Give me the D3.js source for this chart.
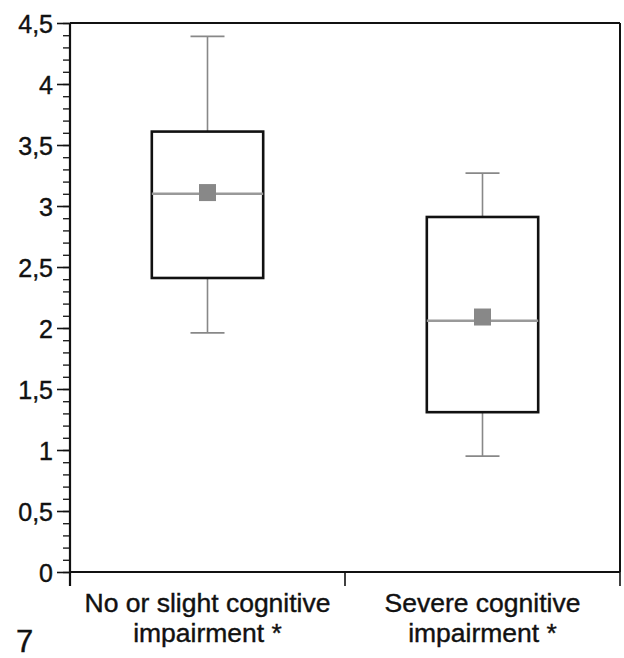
<!DOCTYPE html>
<html><head><meta charset="utf-8">
<script src="https://cdn.jsdelivr.net/npm/d3@7"></script>
<style>body{margin:0;background:#fff}svg{display:block}</style>
</head><body>
<script>
const categories = [["No or slight cognitive","impairment *"],["Severe cognitive","impairment *"]];
const whiskerLow  = [1.96, 0.95];
const q1          = [2.41, 1.31];
const median      = [3.10, 2.06];
const q3          = [3.61, 2.91];
const whiskerHigh = [4.39, 3.27];
const meanValue   = [3.11, 2.09];
const yTicks = [0,0.5,1,1.5,2,2.5,3,3.5,4,4.5];
const yTickLabels = ["0","0,5","1","1,5","2","2,5","3","3,5","4","4,5"];
const figureLabel = "7";

const W=624,H=658;
const svg=d3.select("body").append("svg").attr("width",W).attr("height",H);
const L=70,R=620,T=23,B=572;
const y=d3.scaleLinear().domain([0,4.5]).range([B,T]);
const x=d3.scaleBand().domain(d3.range(categories.length)).range([L,R]);
const font="'Liberation Sans', Arial, Helvetica, sans-serif";

// frame top/right
svg.append("line").attr("x1",L).attr("x2",R).attr("y1",T).attr("y2",T).attr("stroke","#111").attr("stroke-width",2.2);
svg.append("line").attr("x1",R).attr("x2",R).attr("y1",T).attr("y2",B).attr("stroke","#111").attr("stroke-width",2);

// y axis
const minor=d3.range(0,4.5001,0.1);
const yAxisMinor=svg.append("g").attr("transform",`translate(${L},0)`)
  .call(d3.axisLeft(y).tickValues(minor).tickSize(7).tickFormat(""));
yAxisMinor.select(".domain").remove();
yAxisMinor.selectAll("line").attr("stroke","#222").attr("stroke-width",1.4);
const yAxis=svg.append("g").attr("transform",`translate(${L},0)`)
  .call(d3.axisLeft(y).tickValues(yTicks).tickSize(13).tickPadding(4).tickFormat((d,i)=>yTickLabels[i]).tickSizeOuter(0));
yAxis.select(".domain").remove();
yAxis.attr("font-size",null).attr("font-family",null);
yAxis.selectAll("line").attr("stroke","#111").attr("stroke-width",1.6);
yAxis.selectAll("text").style("font-family",font).style("font-size","25px").attr("fill","#111")
  .attr("stroke","#111").attr("stroke-width",0.4).attr("dy","0.36em");
svg.append("line").attr("x1",L).attr("x2",L).attr("y1",T).attr("y2",B+14).attr("stroke","#111").attr("stroke-width",2.2);

// x axis
svg.append("line").attr("x1",L).attr("x2",R).attr("y1",B).attr("y2",B).attr("stroke","#111").attr("stroke-width",2.2);
const bounds=[L, ...d3.range(1,categories.length).map(i=>x(i)), R];
svg.selectAll(".xt").data(bounds).join("line").attr("x1",d=>d).attr("x2",d=>d).attr("y1",B).attr("y2",B+14)
  .attr("stroke","#111").attr("stroke-width",1.6);
categories.forEach((lines,i)=>{
  const t=svg.append("text").attr("x",x(i)+x.bandwidth()/2).attr("y",612).attr("text-anchor","middle")
    .style("font-family",font).style("font-size","26.5px").attr("fill","#111").attr("stroke","#111").attr("stroke-width",0.4);
  lines.forEach((ln,j)=>t.append("tspan").attr("x",x(i)+x.bandwidth()/2).attr("dy",j?30:0).text(ln));
});

// boxes
const bw=x.bandwidth()*0.405, cap=34, ms=17;
categories.forEach((c,i)=>{
  const cx=x(i)+x.bandwidth()/2;
  const g=svg.append("g");
  g.append("line").attr("x1",cx).attr("x2",cx).attr("y1",y(whiskerHigh[i])).attr("y2",y(q3[i])).attr("stroke","#888").attr("stroke-width",1.6);
  g.append("line").attr("x1",cx).attr("x2",cx).attr("y1",y(q1[i])).attr("y2",y(whiskerLow[i])).attr("stroke","#888").attr("stroke-width",1.6);
  [whiskerHigh[i],whiskerLow[i]].forEach(v=>g.append("line").attr("x1",cx-cap/2).attr("x2",cx+cap/2).attr("y1",y(v)).attr("y2",y(v)).attr("stroke","#888").attr("stroke-width",1.8));
  g.append("rect").attr("x",cx-bw/2).attr("y",y(q3[i])).attr("width",bw).attr("height",y(q1[i])-y(q3[i]))
    .attr("fill","none").attr("stroke","#111").attr("stroke-width",2.6);
  g.append("line").attr("x1",cx-bw/2).attr("x2",cx+bw/2).attr("y1",y(median[i])).attr("y2",y(median[i])).attr("stroke","#999").attr("stroke-width",2.6);
  g.append("rect").attr("x",cx-ms/2).attr("y",y(meanValue[i])-ms/2).attr("width",ms).attr("height",ms).attr("fill","#888");
});

svg.append("text").attr("x",16).attr("y",652).style("font-family",font).style("font-size","31px").attr("fill","#111")
  .attr("stroke","#111").attr("stroke-width",0.4).text(figureLabel);
</script>
</body></html>
